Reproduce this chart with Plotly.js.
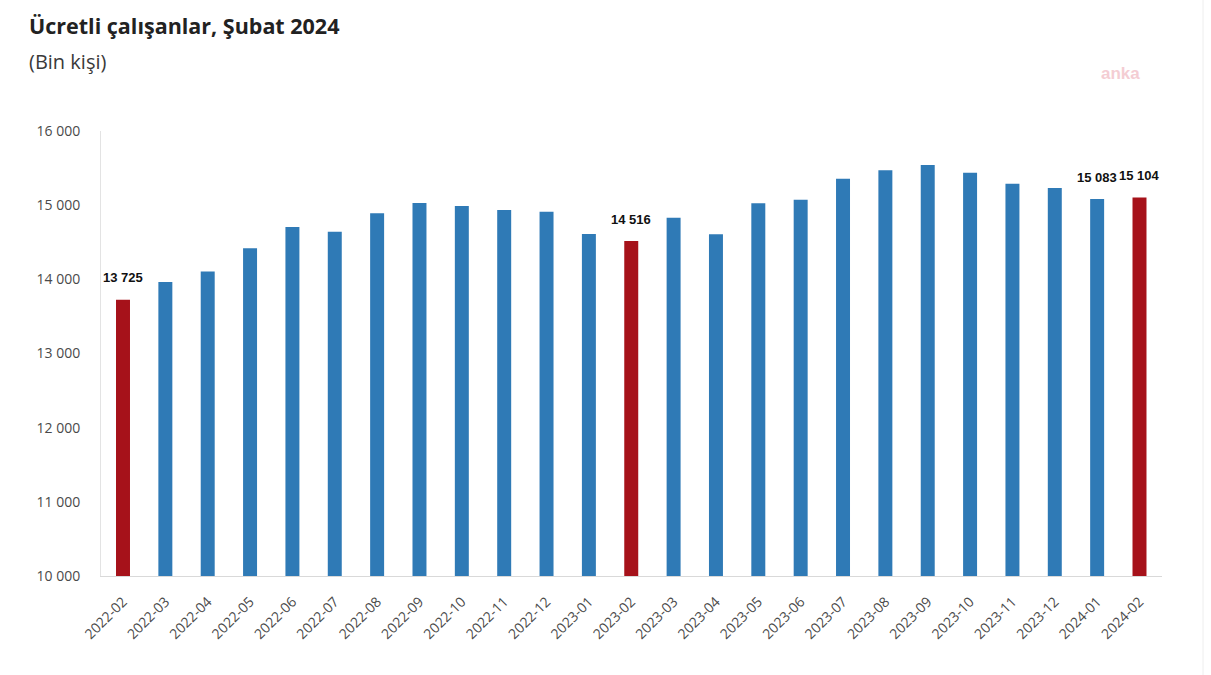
<!DOCTYPE html>
<html><head><meta charset="utf-8">
<script src="https://cdn.plot.ly/plotly-3.0.1.min.js"></script>
<style>html,body{margin:0;padding:0;background:#fff;}#chart{width:1211px;height:675px;}</style>
</head><body><div id="chart"></div>
<script>
const categories = ['2022-02','2022-03','2022-04','2022-05','2022-06','2022-07','2022-08','2022-09','2022-10','2022-11','2022-12','2023-01','2023-02','2023-03','2023-04','2023-05','2023-06','2023-07','2023-08','2023-09','2023-10','2023-11','2023-12','2024-01','2024-02'];
const values = [13725,13964,14105,14420,14705,14640,14890,15030,14990,14935,14910,14610,14516,14830,14607,15025,15074,15357,15470,15541,15438,15290,15231,15083,15104];
const highlighted = ['2022-02','2023-02','2024-02'];
const labelled = ['2022-02','2023-02','2024-01','2024-02'];
const yTicks = [10000,11000,12000,13000,14000,15000,16000];

const fmt = v => String(v).replace(/\B(?=(\d{3})+(?!\d))/g, ' ');
const colors = categories.map(c => highlighted.includes(c) ? '#A6121A' : '#2F7AB6');

const trace = {
  type:'bar', x:categories, y:values,
  marker:{color:colors},
  hoverinfo:'skip'
};
const ph = 675-131-99, pw = 1211-101-49;
const py = px => (675-99-px)/ph;
const pxx = px => (px-101)/pw;

const valueLabels = categories.map((c,i) => labelled.includes(c) ? {
  text:'<b>'+fmt(values[i])+'</b>', x:c, y:values[i], xref:'x', yref:'y',
  yshift:22, xanchor:'center', yanchor:'middle', showarrow:false,
  font:{family:'Liberation Sans, Arial', size:13, color:'#111'}
} : null).filter(Boolean);

const layout = {
  width:1211, height:675,
  margin:{l:101, r:49, t:131, b:99},
  paper_bgcolor:'#fff', plot_bgcolor:'#fff',
  bargap:0.67,
  showlegend:false,
  xaxis:{type:'category', tickangle:-45, showgrid:false, showline:true, linecolor:'#d9d9d9', linewidth:1,
    ticks:'', ticklabelstandoff:11, tickfont:{family:'Open Sans', size:14, color:'#4a4a4a'}},
  yaxis:{range:[10000,16000], tickvals:yTicks, ticktext:yTicks.map(fmt), showgrid:false,
    showline:true, linecolor:'#e3e3e3', linewidth:1, zeroline:false, ticks:'', ticklabelstandoff:17,
    tickfont:{family:'Open Sans', size:14, color:'#4a4a4a'}},
  annotations:[
    {text:'<b>Ücretli çalışanlar, Şubat 2024</b>', xref:'paper', yref:'paper', x:pxx(27), y:py(25),
      xanchor:'left', yanchor:'middle', showarrow:false, font:{family:'Open Sans', size:21.5, color:'#222'}},
    {text:'(Bin kişi)', xref:'paper', yref:'paper', x:pxx(27), y:py(61),
      xanchor:'left', yanchor:'middle', showarrow:false, font:{family:'Open Sans', size:20, color:'#3a3a3a'}},
    {text:'anka', xref:'paper', yref:'paper', x:pxx(1120), y:py(73),
      xanchor:'center', yanchor:'middle', showarrow:false, font:{family:'Liberation Sans', size:17, color:'#f4cdd3', weight:'bold'}}
  ].concat(valueLabels),
  shapes:[{type:'line', xref:'paper', yref:'paper', x0:pxx(1203), x1:pxx(1203), y0:py(0), y1:py(675), line:{color:'#eeeeee', width:1}}]
};
Plotly.newPlot('chart',[trace],layout,{displayModeBar:false, staticPlot:true});
</script></body></html>
